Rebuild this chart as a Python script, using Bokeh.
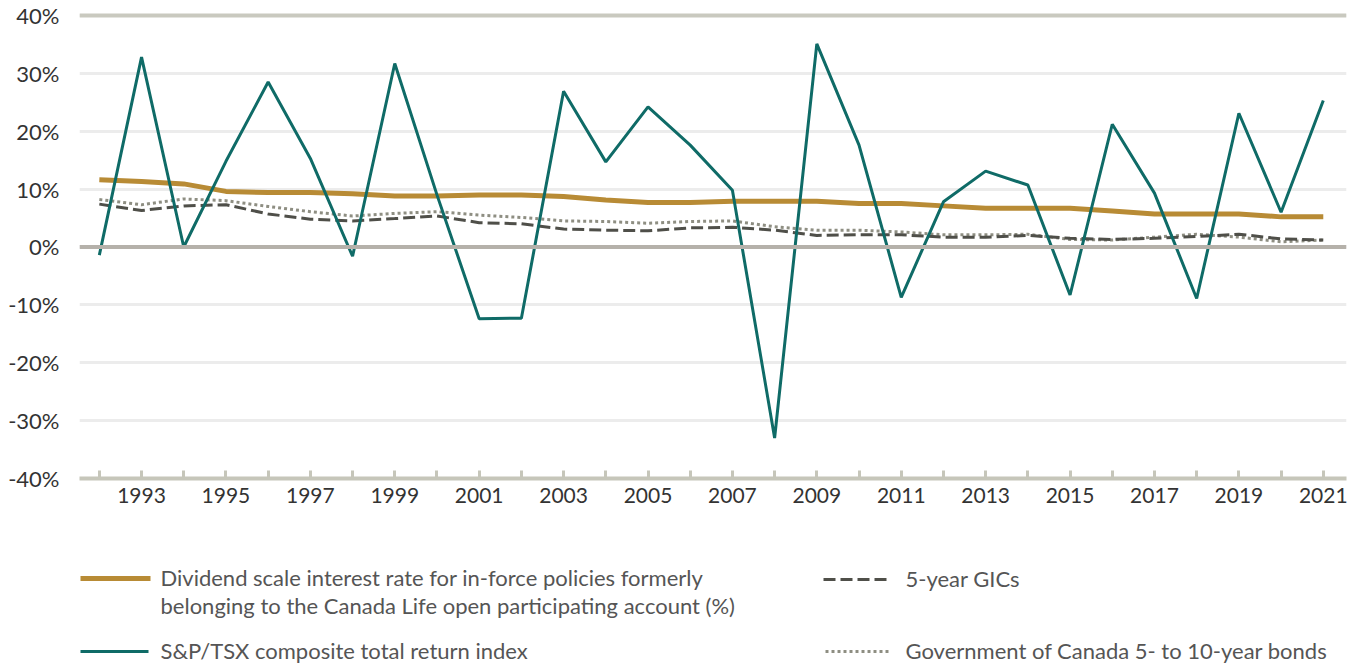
from bokeh.plotting import figure
from bokeh.models import (FixedTicker, PrintfTickFormatter, Range1d, Span, ColumnDataSource)
from bokeh.layouts import column
from bokeh.core.properties import value
from bokeh.embed import file_html
from bokeh.resources import INLINE

years = list(range(1992, 2022))
dividend = [11.6, 11.3, 10.9, 9.6, 9.4, 9.4, 9.2, 8.8, 8.8, 9.0,
            9.0, 8.7, 8.1, 7.7, 7.7, 7.9, 7.9, 7.9, 7.5, 7.5,
            7.1, 6.7, 6.7, 6.7, 6.2, 5.7, 5.7, 5.7, 5.2, 5.2]
tsx = [-1.4, 32.8, 0.0, 14.8, 28.5, 15.3, -1.6, 31.7, 9.0, -12.4,
       -12.3, 26.9, 14.7, 24.2, 17.6, 9.8, -33.0, 35.1, 17.6, -8.7,
       7.8, 13.1, 10.7, -8.3, 21.2, 9.3, -8.9, 23.1, 6.0, 25.3]
gic = [7.4, 6.3, 7.1, 7.3, 5.7, 4.8, 4.5, 4.9, 5.35, 4.2,
       4.0, 3.1, 2.9, 2.8, 3.3, 3.4, 2.9, 2.0, 2.1, 2.1,
       1.7, 1.7, 2.0, 1.5, 1.3, 1.5, 1.8, 2.2, 1.4, 1.2]
bonds = [8.2, 7.3, 8.3, 8.0, 7.0, 6.1, 5.35, 5.8, 6.1, 5.5,
         5.1, 4.5, 4.4, 4.1, 4.4, 4.5, 3.5, 2.9, 2.9, 2.6,
         2.1, 2.1, 2.2, 1.3, 1.2, 1.7, 2.2, 1.7, 0.9, 1.2]
y_ticks = [-40, -30, -20, -10, 0, 10, 20, 30, 40]
label_div = ["Dividend scale interest rate for in-force policies formerly",
             "belonging to the Canada Life open participating account (%)"]
label_tsx = "S&P/TSX composite total return index"
label_gic = "5-year GICs"
label_bonds = "Government of Canada 5- to 10-year bonds"

FONT = "Lato"
GOLD = "#b88b35"
TEAL = "#0f6b67"
DASH = "#4f4f49"
DOT = "#8e8e82"
AXIS = "#c6c6ba"

src = ColumnDataSource(dict(year=years, dividend=dividend, tsx=tsx, gic=gic, bonds=bonds))

p = figure(width=1354, height=538, output_backend="svg", toolbar_location=None,
           x_range=Range1d(1991.53, 2021.55), y_range=Range1d(-40, 41.2),
           min_border_left=79, min_border_right=8, min_border_top=8, min_border_bottom=60)
p.outline_line_color = None
p.background_fill_color = "white"

p.ygrid.ticker = FixedTicker(ticks=y_ticks)
p.ygrid.grid_line_color = "#ececec"
p.ygrid.grid_line_width = 3
p.xgrid.grid_line_color = None

p.add_layout(Span(location=40, dimension="width", line_color="#c9c9bf", line_width=4))
p.add_layout(Span(location=0, dimension="width", line_color="#b5b1aa", line_width=4))

p.yaxis.ticker = FixedTicker(ticks=y_ticks)
p.yaxis.formatter = PrintfTickFormatter(format="%d%%")
p.yaxis.axis_line_color = None
p.yaxis.major_tick_line_color = None
p.yaxis.minor_tick_line_color = None
p.yaxis.major_label_standoff = 14
p.yaxis.major_label_text_font = FONT
p.yaxis.major_label_text_font_size = "22px"
p.yaxis.major_label_text_color = "#333333"

p.xaxis.ticker = FixedTicker(ticks=years)
p.xaxis.major_label_overrides = {y: ("" if y % 2 == 0 else str(y)) for y in years}
p.xaxis.axis_line_color = AXIS
p.xaxis.axis_line_width = 4
p.xaxis.major_tick_line_color = AXIS
p.xaxis.major_tick_line_width = 3
p.xaxis.major_tick_in = 8
p.xaxis.major_tick_out = 0
p.xaxis.minor_tick_line_color = None
p.xaxis.major_label_standoff = 9
p.xaxis.major_label_text_font = FONT
p.xaxis.major_label_text_font_size = "21px"
p.xaxis.major_label_text_color = "#333333"

p.line("year", "bonds", source=src, line_color=DOT, line_width=3, line_dash="3 3")
p.line("year", "gic", source=src, line_color=DASH, line_width=3, line_dash="12 5")
p.line("year", "dividend", source=src, line_color=GOLD, line_width=5)
p.line("year", "tsx", source=src, line_color=TEAL, line_width=3)

# Legend panel: data units equal page pixels (x) and pixels below the chart (y)
lg = figure(width=1354, height=126, output_backend="svg", toolbar_location=None,
            x_range=Range1d(79, 1346), y_range=Range1d(126, 0),
            min_border_left=79, min_border_right=8, min_border_top=0, min_border_bottom=0)
lg.axis.visible = False
lg.grid.visible = False
lg.outline_line_color = None

lg.line([80, 150], [40, 40], line_color=GOLD, line_width=5)
lg.line([80, 148], [113, 113], line_color=TEAL, line_width=3)
lg.line([823, 888], [41, 41], line_color=DASH, line_width=3, line_dash="12 5")
lg.line([825, 888], [113, 113], line_color=DOT, line_width=3, line_dash="3 3")

tfont = dict(text_font=value(FONT), text_font_size=value("22px"), text_color="#555555",
             text_baseline="middle", text_align="left")
lg.text(x=[160, 160], y=[39, 67], text=label_div, **tfont)
lg.text(x=[160], y=[112], text=[label_tsx], **tfont)
lg.text(x=[905], y=[40], text=[label_gic], **tfont)
lg.text(x=[905], y=[112], text=[label_bonds], **tfont)

layout = column(p, lg, spacing=0)
open("out.html", "w").write(file_html(layout, INLINE))
